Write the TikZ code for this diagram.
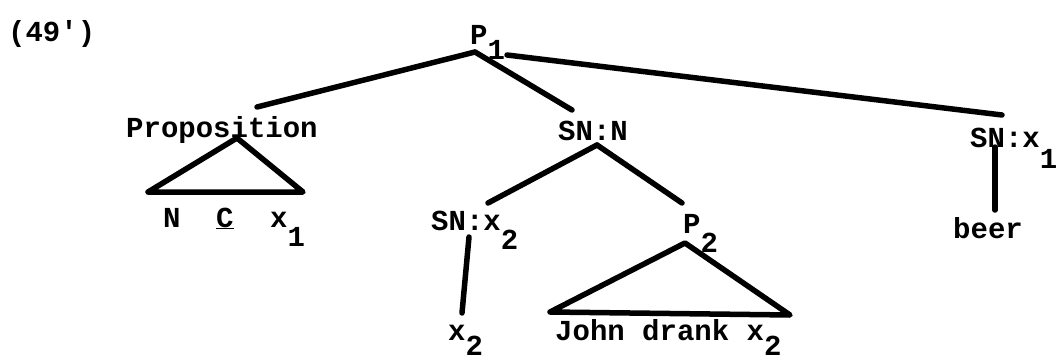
\documentclass[tikz,border=0pt]{standalone}
\usepackage{fontspec}
\setmainfont{Liberation Mono}[Ligatures=TeXOff]
\newcommand\lowsub[2][19pt]{\raisebox{-#1}{#2}}
\begin{document}
\begin{tikzpicture}[x=1pt,y=-1pt,
  lbl/.style={inner sep=0pt, anchor=base west, font=\fontsize{29}{29}\selectfont\bfseries},
  edge/.style={line width=5.5pt, line cap=round, line join=round}]
\useasboundingbox (0,0) rectangle (1057,361);
% labels
\node[lbl] (num)  at (8,42)    {(49')};
\node[lbl] (p1)   at (470,45)  {P\lowsub[15pt]{1}};
\node[lbl] (prop) at (126,137) {Proposition};
\node[lbl] (snn)  at (558,140) {SN:N};
\node[lbl] (snx1) at (970,147) {SN:x\lowsub[21pt]{1}};
\node[lbl] (n)    at (163,227) {N};
\node[lbl] (c)    at (216,227) {\underline{C}};
\node[lbl] (x1)   at (270,227) {x\lowsub{1}};
\node[lbl] (snx2) at (431,230) {SN:x\lowsub{2}};
\node[lbl] (p2)   at (683,233) {P\lowsub{2}};
\node[lbl] (x2)   at (448,340) {x\lowsub[15pt]{2}};
\node[lbl] (john) at (555,340) {John drank x\lowsub[15pt]{2}};
\node[lbl] (beer) at (953,238) {beer};
% connector end points
\coordinate (p1a) at (475,52);
\coordinate (p1b) at (507,55);
\coordinate (propt) at (257,107);
\coordinate (snnt) at (572,110);
\coordinate (snx1t) at (1002,115);
\coordinate (snnb) at (597,145);
\coordinate (snx2t) at (488,203);
\coordinate (p2t) at (682,203);
\coordinate (snx2b) at (469,237);
\coordinate (x2t) at (462,313);
\coordinate (snx1b) at (995,147);
\coordinate (beert) at (995,210);
\coordinate (propapex) at (237,138);
\coordinate (propl) at (148,192);
\coordinate (propr) at (303,192);
\coordinate (p2apex) at (685,243);
\coordinate (p2l) at (550,312);
\coordinate (p2r) at (790,315);
% connectors
\draw[edge] (p1a) -- (propt);
\draw[edge] (p1a) -- (snnt);
\draw[edge] (p1b) -- (snx1t);
\draw[edge] (snnb) -- (snx2t);
\draw[edge] (snnb) -- (p2t);
\draw[edge] (snx2b) -- (x2t);
\draw[edge] (snx1b) -- (beert);
\draw[edge] (propapex) -- (propl) -- (propr) -- cycle;
\draw[edge] (p2apex) -- (p2l) -- (p2r) -- cycle;
\end{tikzpicture}
\end{document}
